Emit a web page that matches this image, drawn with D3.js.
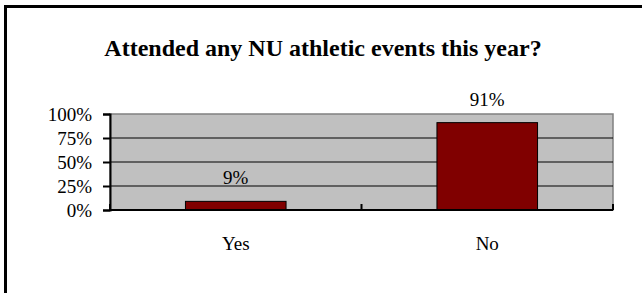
<!DOCTYPE html>
<html>
    <head>
        <script src="https://d3js.org/d3.v7.min.js"></script>
        <style>
            body { margin: 0; background: #fff; }
            svg text { font-family: "Liberation Serif", "Times New Roman", serif !important; fill: #000; }
            .axis path, .axis line { stroke: #000; }
        </style>
    </head>
    <body>
        <div id="chart"></div>
    </body>
    <script>
        var title = "Attended any NU athletic events this year?";
        var categories = ["Yes", "No"];
        var values = [9, 91];
        var yTicks = [0, 25, 50, 75, 100];

        var width = 642, height = 293;
        var plot = {left: 110, right: 613, top: 114, bottom: 210};
        var serif = '"Liberation Serif", "Times New Roman", serif';

        var svg = d3.select("#chart")
            .append("svg")
                .attr("width", width)
                .attr("height", height);

        // outer frame (runs off the right and bottom edge)
        svg.append("rect")
            .attr("x", 5.5).attr("y", 6.5)
            .attr("width", 700).attr("height", 400)
            .attr("fill", "none")
            .attr("stroke", "#000")
            .attr("stroke-width", 3);

        svg.append("text")
            .attr("x", 323).attr("y", 56)
            .attr("text-anchor", "middle")
            .style("font-family", serif)
            .style("font-weight", "bold")
            .style("font-size", "24px")
            .text(title);

        var y = d3.scaleLinear().domain([0, 100]).range([plot.bottom, plot.top]);
        var slot = d3.scaleBand().domain(categories).range([plot.left, plot.right]).padding(0);
        var x = d3.scaleBand().domain(categories).range([plot.left, plot.right])
            .paddingInner(0.6).paddingOuter(0.3);

        // plot background
        svg.append("rect")
            .attr("x", plot.left).attr("y", plot.top)
            .attr("width", plot.right - plot.left)
            .attr("height", plot.bottom - plot.top)
            .attr("fill", "#c0c0c0")
            .attr("stroke", "#808080")
            .attr("stroke-width", 1.5);

        // gridlines
        svg.selectAll(".grid")
            .data(yTicks.filter(function(d) { return d > 0 && d < 100; }))
            .enter().append("line")
                .attr("class", "grid")
                .attr("x1", plot.left).attr("x2", plot.right)
                .attr("y1", function(d) { return y(d); })
                .attr("y2", function(d) { return y(d); })
                .attr("stroke", "#000")
                .attr("stroke-width", 1.2);

        // bars
        svg.selectAll(".bar")
            .data(values)
            .enter().append("rect")
                .attr("class", "bar")
                .attr("x", function(d, i) { return x(categories[i]); })
                .attr("y", function(d) { return y(d); })
                .attr("width", x.bandwidth())
                .attr("height", function(d) { return y(0) - y(d); })
                .attr("fill", "#800000")
                .attr("stroke", "#000")
                .attr("stroke-width", 1);

        // data labels
        svg.selectAll(".label")
            .data(values)
            .enter().append("text")
                .attr("class", "label")
                .attr("x", function(d, i) { return x(categories[i]) + x.bandwidth() / 2; })
                .attr("y", function(d) { return y(d) - 17; })
                .attr("text-anchor", "middle")
                .style("font-family", serif)
                .style("font-size", "19px")
                .text(function(d) { return d + "%"; });

        // y axis
        var yAxis = d3.axisLeft(y)
            .tickValues(yTicks)
            .tickFormat(function(d) { return d + "%"; })
            .tickSize(7)
            .tickPadding(11);

        svg.append("g")
            .attr("class", "axis")
            .attr("transform", "translate(" + plot.left + ",0)")
            .call(yAxis)
            .attr("font-family", serif)
            .call(function(g) {
                g.select(".domain").attr("stroke-width", 2);
                g.selectAll(".tick line").attr("stroke-width", 2);
                g.selectAll("text")
                    .style("font-family", serif)
                    .style("font-size", "19px")
                    .attr("fill", "#000");
            });

        // x axis line + boundary ticks
        svg.append("line")
            .attr("x1", plot.left).attr("x2", plot.right)
            .attr("y1", y(0)).attr("y2", y(0))
            .attr("stroke", "#000").attr("stroke-width", 2);

        var bounds = [plot.left].concat(categories.map(function(c) { return slot(c) + slot.bandwidth(); }));
        svg.selectAll(".xtick")
            .data(bounds)
            .enter().append("line")
                .attr("class", "xtick")
                .attr("x1", function(d) { return d; }).attr("x2", function(d) { return d; })
                .attr("y1", y(0)).attr("y2", y(0) - 6)
                .attr("stroke", "#000").attr("stroke-width", 2);

        svg.selectAll(".cat")
            .data(categories)
            .enter().append("text")
                .attr("class", "cat")
                .attr("x", function(d) { return slot(d) + slot.bandwidth() / 2; })
                .attr("y", 250)
                .attr("text-anchor", "middle")
                .style("font-family", serif)
                .style("font-size", "19px")
                .text(function(d) { return d; });
    </script>
</html>
